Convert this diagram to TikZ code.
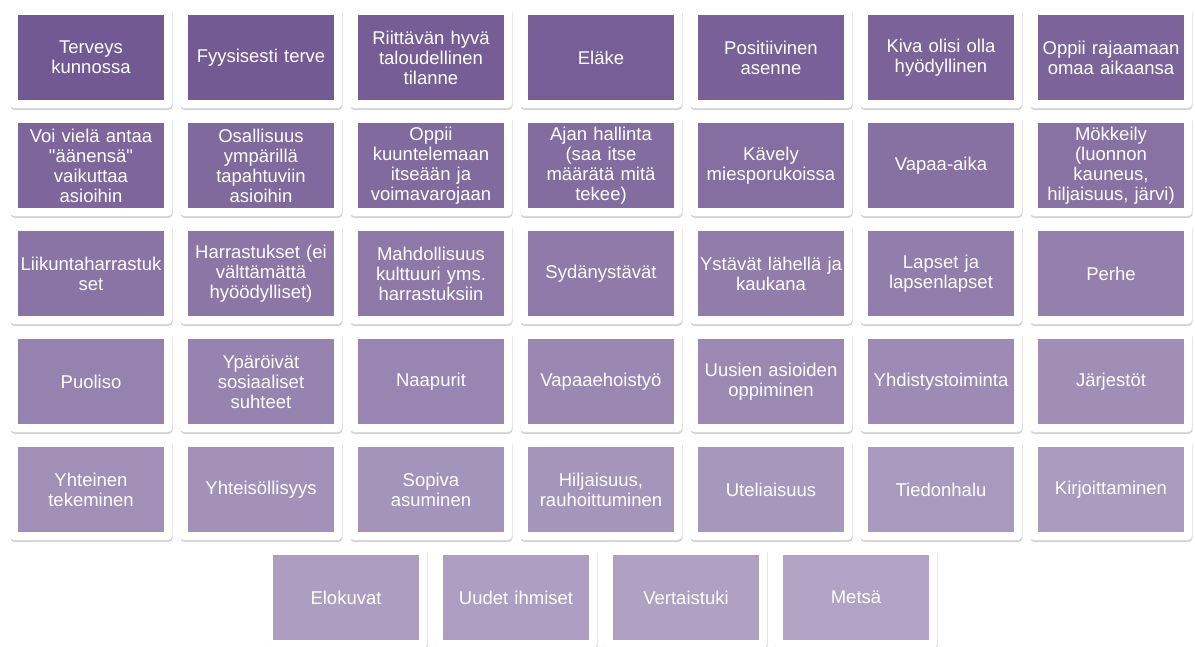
\documentclass[tikz,border=0pt]{standalone}
\usepackage{fontspec}
\setmainfont{Liberation Sans}[Ligatures = TeXOff]
\usepackage{tikz}
\usetikzlibrary{shadows}
\definecolor{carddark}{RGB}{115,89,147}
\definecolor{cardlight}{RGB}{178,163,197}
\newcounter{cardno}
% one white card with its coloured field and text
\newcommand\card[4]{%
	\pgfmathtruncatemacro\mixpct{100*\thecardno/38}%
	\node[cardframe] (#1frame) at (#2,#3) {};
	\node[cardfield, fill = cardlight!\mixpct!carddark] (#1) at (#2,#3) {#4};
	\stepcounter{cardno}}
\tikzset{
	cardframe/.style = {draw = none, fill = white, rounded corners = 4pt, minimum width = 162pt, minimum height = 101pt, inner sep = 0pt,
		drop shadow = {shadow xshift = .5pt, shadow yshift = -2pt, fill = black, opacity = .17}},
	cardfield/.style = {minimum width = 146pt, minimum height = 85pt, text width = 146pt, inner sep = 0pt, align = center,
		text = white, font = \fontsize{18.5}{20}\selectfont}
}

\begin{document}
\begin{tikzpicture}[x = 1pt, y = -1pt]
	\useasboundingbox (0,0) rectangle (1195,646);
	%row 1
	\card{terveys}{91}{57.5}{Terveys\\kunnossa}
	\card{fyysinen}{261}{57.5}{Fyysisesti terve}
	\card{talous}{431}{57.5}{Riittävän hyvä\\taloudellinen\\tilanne}
	\card{elake}{601}{57.5}{Eläke}
	\card{asenne}{771}{57.5}{Positiivinen\\asenne}
	\card{hyoty}{941}{57.5}{Kiva olisi olla\\hyödyllinen}
	\card{rajaus}{1111}{57.5}{Oppii rajaamaan\\omaa aikaansa}
	%row 2
	\card{aani}{91}{165.5}{Voi vielä antaa\\"äänensä"\\vaikuttaa\\asioihin}
	\card{osallisuus}{261}{165.5}{Osallisuus\\ympärillä\\tapahtuviin\\asioihin}
	\card{kuuntelu}{431}{165.5}{Oppii\\kuuntelemaan\\itseään ja\\voimavarojaan}
	\card{ajanhallinta}{601}{165.5}{Ajan hallinta\\(saa itse\\määrätä mitä\\tekee)}
	\card{kavely}{771}{165.5}{Kävely\\miesporukoissa}
	\card{vapaa}{941}{165.5}{Vapaa-aika}
	\card{mokki}{1111}{165.5}{Mökkeily\\(luonnon\\kauneus,\\hiljaisuus, järvi)}
	%row 3
	\card{liikunta}{91}{273.5}{Liikuntaharrastuk\\set}
	\card{harrastus}{261}{273.5}{Harrastukset (ei\\välttämättä\\hyöödylliset)}
	\card{kulttuuri}{431}{273.5}{Mahdollisuus\\kulttuuri yms.\\harrastuksiin}
	\card{sydan}{601}{273.5}{Sydänystävät}
	\card{ystavat}{771}{273.5}{Ystävät lähellä ja\\kaukana}
	\card{lapset}{941}{273.5}{Lapset ja\\lapsenlapset}
	\card{perhe}{1111}{273.5}{Perhe}
	%row 4
	\card{puoliso}{91}{381.5}{Puoliso}
	\card{sosiaaliset}{261}{381.5}{Ypäröivät\\sosiaaliset\\suhteet}
	\card{naapurit}{431}{381.5}{Naapurit}
	\card{vapaaeh}{601}{381.5}{Vapaaehoistyö}
	\card{oppiminen}{771}{381.5}{Uusien asioiden\\oppiminen}
	\card{yhdistys}{941}{381.5}{Yhdistystoiminta}
	\card{jarjestot}{1111}{381.5}{Järjestöt}
	%row 5
	\card{yhteinen}{91}{489.5}{Yhteinen\\tekeminen}
	\card{yhteiso}{261}{489.5}{Yhteisöllisyys}
	\card{asuminen}{431}{489.5}{Sopiva\\asuminen}
	\card{hiljaisuus}{601}{489.5}{Hiljaisuus,\\rauhoittuminen}
	\card{uteliaisuus}{771}{489.5}{Uteliaisuus}
	\card{tiedonhalu}{941}{489.5}{Tiedonhalu}
	\card{kirjoitus}{1111}{489.5}{Kirjoittaminen}
	%row 6
	\card{elokuvat}{346}{597.5}{Elokuvat}
	\card{ihmiset}{516}{597.5}{Uudet ihmiset}
	\card{vertais}{686}{597.5}{Vertaistuki}
	\card{metsa}{856}{597.5}{Metsä}
\end{tikzpicture}
\end{document}
